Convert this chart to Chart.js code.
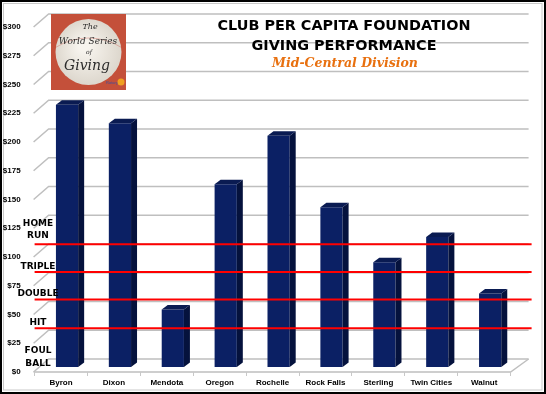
<!DOCTYPE html>
<html>
<head>
<meta charset="utf-8">
<script src="https://cdn.jsdelivr.net/npm/chart.js@4.4.1/dist/chart.umd.min.js"></script>
<style>
  html, body { margin: 0; padding: 0; background: #fff; }
  #wrap { position: absolute; left: 0; top: 0; width: 546px; height: 394px; }
</style>
</head>
<body>
<div id="wrap"><canvas id="chart" width="546" height="394"></canvas></div>
<script>
// clubs and their per capita foundation giving
const clubs = ["Byron", "Dixon", "Mendota", "Oregon", "Rochelle", "Rock Falls", "Sterling", "Twin Cities", "Walnut"];
const perCapita = [228, 212, 50, 159, 201, 139, 91, 113, 64];

// y axis
const yMin = 0;
const yMax = 300;
const yStep = 25;

// baseball levels (value where each level starts)
const levelValues = [0, 38, 63, 87, 111];
const levelNames = [["FOUL", "BALL"], ["HIT"], ["DOUBLE"], ["TRIPLE"], ["HOME", "RUN"]];

const titleLines = ["CLUB PER CAPITA FOUNDATION", "GIVING PERFORMANCE"];
const subTitle = "Mid-Central Division";

// 3d look
const DEPTH_X = 15, DEPTH_Y = 13;   // wall depth
const BAR_SHIFT_X = 6, BAR_SHIFT_Y = -5; // bars sit a bit inside the floor
const SIDE_X = 6, SIDE_Y = 4.5;
const gridColor = '#bfbfbf';

const wallPlugin = {
  id: 'walls',
  beforeDraw(chart) {
    const ctx = chart.ctx;
    const a = chart.chartArea;
    const ys = chart.scales.y;
    ctx.save();
    ctx.fillStyle = '#fff';
    ctx.fillRect(0, 0, chart.width, chart.height);

    ctx.strokeStyle = gridColor;
    ctx.lineWidth = 1.5;
    const left = a.left - 1;
    for (let v = yMin; v <= yMax; v += yStep) {
      const y = ys.getPixelForValue(v);
      ctx.beginPath();
      ctx.moveTo(left, y);
      ctx.lineTo(left + DEPTH_X, y - DEPTH_Y);
      ctx.lineTo(a.right + DEPTH_X + 3, y - DEPTH_Y);
      ctx.stroke();
    }
    // floor
    const y0 = ys.getPixelForValue(0);
    ctx.beginPath();
    ctx.moveTo(left, y0);
    ctx.lineTo(a.right, y0);
    ctx.lineTo(a.right + DEPTH_X + 3, y0 - DEPTH_Y);
    ctx.stroke();

    // frame
    ctx.strokeStyle = '#c8c8c8';
    ctx.lineWidth = 1;
    ctx.strokeRect(3.5, 3.5, 538.5, 386.5);
    ctx.strokeStyle = '#000';
    ctx.lineWidth = 2;
    ctx.strokeRect(1, 1, chart.width - 2, chart.height - 2);
    ctx.restore();
  },
  beforeDatasetsDraw(chart) {
    chart.ctx.save();
    chart.ctx.translate(BAR_SHIFT_X, BAR_SHIFT_Y);
  },
  afterDatasetsDraw(chart) {
    const ctx = chart.ctx;
    chart.getDatasetMeta(0).data.forEach(bar => {
      const p = bar.getProps(['x', 'y', 'base', 'width'], true);
      const l = p.x - p.width / 2, r = p.x + p.width / 2;
      // side
      ctx.fillStyle = '#05123d';
      ctx.beginPath();
      ctx.moveTo(r, p.y);
      ctx.lineTo(r + SIDE_X, p.y - SIDE_Y);
      ctx.lineTo(r + SIDE_X, p.base - SIDE_Y);
      ctx.lineTo(r, p.base);
      ctx.closePath();
      ctx.fill();
      // top
      ctx.fillStyle = '#0a1b52';
      ctx.beginPath();
      ctx.moveTo(l, p.y);
      ctx.lineTo(l + SIDE_X, p.y - SIDE_Y);
      ctx.lineTo(r + SIDE_X, p.y - SIDE_Y);
      ctx.lineTo(r, p.y);
      ctx.closePath();
      ctx.fill();
    });
    ctx.restore();
  },
  afterDraw(chart) {
    const ctx = chart.ctx;
    const a = chart.chartArea;
    const ys = chart.scales.y;
    ctx.save();

    // level lines and names
    ctx.strokeStyle = '#ff0000';
    ctx.lineWidth = 2;
    ctx.font = 'bold 9px "DejaVu Sans", sans-serif';
    ctx.textAlign = 'center';
    ctx.textBaseline = 'middle';
    levelValues.forEach((v, i) => {
      const y = ys.getPixelForValue(v);
      if (v > 0) {
        ctx.beginPath();
        ctx.moveTo(a.left, y);
        ctx.lineTo(a.right + 21, y);
        ctx.stroke();
      }
      const names = levelNames[i];
      const bottom = names.length > 1 ? y - 8.5 : y - 5.5;
      names.forEach((n, k) => {
        const ty = bottom - (names.length - 1 - k) * 12.5;
        ctx.fillStyle = '#000';
        ctx.fillText(n, 38, ty);
      });
    });

    // logo
    ctx.fillStyle = '#c4503a';
    ctx.fillRect(51, 14, 75, 76);
    const grad = ctx.createRadialGradient(84, 46, 5, 88, 52, 34);
    grad.addColorStop(0, '#f7f4ee');
    grad.addColorStop(1, '#dcd6cc');
    ctx.fillStyle = grad;
    ctx.beginPath();
    ctx.arc(88.5, 52, 33, 0, Math.PI * 2);
    ctx.fill();
    ctx.strokeStyle = 'rgba(200,80,70,0.35)';
    ctx.lineWidth = 1;
    ctx.beginPath();
    ctx.arc(88.5, 100, 62, Math.PI * 1.32, Math.PI * 1.68);
    ctx.stroke();
    ctx.fillStyle = '#2a2a2a';
    ctx.textAlign = 'center';
    ctx.font = 'italic 8px "DejaVu Serif", serif';
    ctx.fillText('The', 90, 27);
    ctx.font = 'italic 9px "DejaVu Serif", serif';
    ctx.fillText('World Series', 88, 42);
    ctx.font = 'italic 6px "DejaVu Serif", serif';
    ctx.fillText('of', 89, 52);
    ctx.font = 'italic 14px "DejaVu Serif", serif';
    ctx.fillText('Giving', 87, 66);
    ctx.fillStyle = '#3a4fa0';
    ctx.font = '4px sans-serif';
    ctx.fillText('Rotary', 112, 83);
    ctx.fillStyle = '#f0a020';
    ctx.beginPath();
    ctx.arc(121, 82, 3.5, 0, Math.PI * 2);
    ctx.fill();

    // titles
    ctx.fillStyle = '#000';
    ctx.font = 'bold 14.4px "DejaVu Sans", sans-serif';
    ctx.fillText(titleLines[0], 344, 26);
    ctx.fillText(titleLines[1], 344, 46);
    ctx.fillStyle = '#e8700f';
    ctx.font = 'bold italic 12.5px "DejaVu Serif", serif';
    ctx.fillText(subTitle, 345, 64);
    ctx.restore();
  }
};

new Chart(document.getElementById('chart'), {
  type: 'bar',
  data: {
    labels: clubs,
    datasets: [{
      data: perCapita,
      backgroundColor: '#0b2064',
      borderWidth: 0,
      barPercentage: 0.42,
      categoryPercentage: 1
    }]
  },
  options: {
    responsive: false,
    animation: false,
    devicePixelRatio: 1,
    layout: { padding: { left: 0, top: 27, right: 35.4, bottom: 0 } },
    plugins: { legend: { display: false }, tooltip: { enabled: false } },
    scales: {
      x: {
        grid: { display: true, drawOnChartArea: false, drawTicks: true, tickLength: 4, color: '#c8c8c8' },
        border: { display: false },
        ticks: { color: '#000', padding: 2, font: { family: '"Liberation Sans", Arial, sans-serif', size: 8, weight: 'bold' } },
        afterFit: s => { s.height = 22; }
      },
      y: {
        min: yMin,
        max: yMax,
        grid: { display: false },
        border: { display: false },
        ticks: {
          stepSize: yStep,
          padding: 6,
          color: '#000',
          font: { family: '"Liberation Sans", Arial, sans-serif', size: 8, weight: 'bold' },
          callback: v => '$' + v
        },
        afterFit: s => { s.width = 34.6; }
      }
    }
  },
  plugins: [wallPlugin]
});
</script>
</body>
</html>
